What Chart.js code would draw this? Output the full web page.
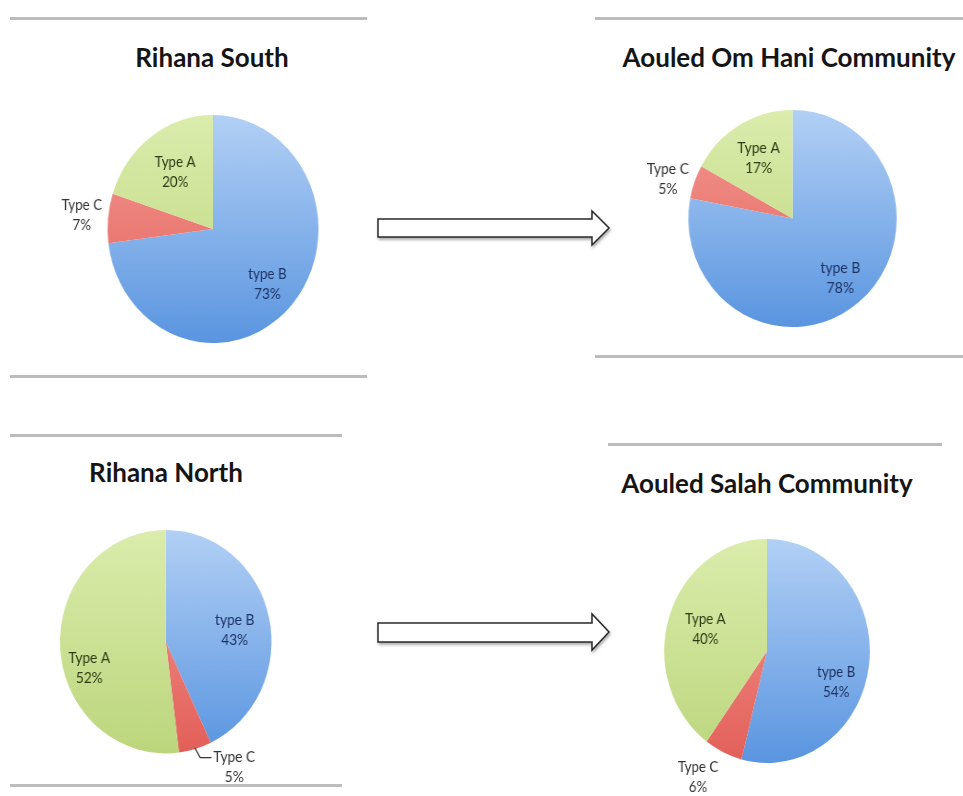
<!DOCTYPE html>
<html lang="en">
<head>
    <meta charset="UTF-8">
    <title>Type distribution</title>
    <style>
        body { margin: 0; background: #fff; width: 963px; height: 796px; position: relative; overflow: hidden; font-family: Lato, "Open Sans", sans-serif; }
        .rule { position: absolute; height: 3px; background: #bcbcbc; }
        .title { position: absolute; width: 440px; text-align: center; font-weight: bold; font-size: 26px; color: #151515; line-height: 30px; }
        .pie { position: absolute; }
        svg { position: absolute; left: 0; top: 0; }
    </style>
    <script src="https://cdn.jsdelivr.net/npm/chart.js"></script>
</head>
<body>
    <div class="rule" style="left:10px; top:17px; width:357px"></div>
    <div class="rule" style="left:10px; top:375px; width:357px"></div>
    <div class="rule" style="left:595px; top:17px; width:368px"></div>
    <div class="rule" style="left:595px; top:355px; width:368px"></div>
    <div class="rule" style="left:10px; top:434px; width:332px"></div>
    <div class="rule" style="left:10px; top:784px; width:332px"></div>
    <div class="rule" style="left:608px; top:443px; width:334px"></div>

    <svg width="963" height="796">
        <defs>
            <filter id="sh" x="-5%" y="-30%" width="110%" height="160%">
                <feDropShadow dx="1" dy="2" stdDeviation="1.5" flood-color="#000" flood-opacity="0.35"/>
            </filter>
        </defs>
        <polygon points="378,219 592,219 592,211 609,228 592,245 592,237 378,237" fill="#fff" stroke="#2a2a2a" stroke-width="1.5" filter="url(#sh)"/>
        <polygon points="378,623 592,623 592,614 609,632 592,650 592,642 378,642" fill="#fff" stroke="#2a2a2a" stroke-width="1.5" filter="url(#sh)"/>
    </svg>

    <div id="charts"></div>

    <script>
        // slice order, clockwise from 12 o'clock
        const typeLabels = ["type B", "Type C", "Type A"];

        const rihanaSouth = [73, 7, 20];
        const omHani = [78, 5, 17];
        const rihanaNorth = [43, 5, 52];
        const ouledSalah = [54, 6, 40];

        const titles = ["Rihana South", "Aouled Om Hani Community", "Rihana North", "Aouled Salah Community"];

        // layout of each pie: center, radius, horizontal squeeze, title position
        const layouts = [
            { cx: 212.5, cy: 229, r: 114, sx: 0.925, tx: 212, ty: 57 },
            { cx: 792, cy: 218.5, r: 108.5, sx: 0.96, tx: 789, ty: 57 },
            { cx: 166, cy: 641.7, r: 111.7, sx: 0.947, tx: 166, ty: 472 },
            { cx: 767, cy: 651.3, r: 112, sx: 0.918, tx: 767, ty: 483 }
        ];

        // label placement per slice: [angle shift deg, radius factor]
        const labelSpots = [
            [[2, 0.71], [0, 1.25], [0, 0.61]],
            [[0, 0.72], [-3, 1.25], [0, 0.64]],
            [[3.5, 0.66], [-13.7, 1.30], [-14.5, 0.76]],
            [[15.7, 0.73], [5.6, 1.31], [0, 0.63]]
        ];
        const leaders = [false, false, true, false];

        const sliceColors = [
            ["#b2d0f5", "#5a95e0"],
            ["#f39a93", "#e35f59"],
            ["#dbecac", "#bcd67d"]
        ];
        const textColors = ["#1c3363", "#333333", "#2e3b14"];

        function gradientFill(ctx) {
            const chart = ctx.chart;
            const area = chart.chartArea;
            const pair = sliceColors[ctx.dataIndex];
            if (!area) return pair[1];
            const g = chart.ctx.createLinearGradient(0, area.top, 0, area.bottom);
            g.addColorStop(0, pair[0]);
            g.addColorStop(1, pair[1]);
            return g;
        }

        const sliceLabels = {
            id: "sliceLabels",
            afterDatasetsDraw(chart, args, opts) {
                const ctx = chart.ctx;
                const meta = chart.getDatasetMeta(0);
                const values = chart.data.datasets[0].data;
                ctx.save();
                ctx.font = "14.5px Lato, sans-serif";
                ctx.textAlign = "center";
                ctx.textBaseline = "middle";
                meta.data.forEach((arc, i) => {
                    const p = arc.getProps(["x", "y", "startAngle", "endAngle", "outerRadius"], true);
                    const spot = opts.spots[i];
                    const a = (p.startAngle + p.endAngle) / 2 + spot[0] * Math.PI / 180;
                    const lx = p.x + Math.cos(a) * p.outerRadius * spot[1];
                    const ly = p.y + Math.sin(a) * p.outerRadius * spot[1];
                    const name = chart.data.labels[i];
                    ctx.fillStyle = textColors[i];
                    ctx.fillText(name, lx, ly - 10);
                    ctx.fillText(values[i] + "%", lx, ly + 10);
                    if (opts.leader && i === 1) {
                        const mid = (p.startAngle + p.endAngle) / 2;
                        const x0 = p.x + Math.cos(mid) * p.outerRadius * 0.99;
                        const y0 = p.y + Math.sin(mid) * p.outerRadius * 0.99;
                        const x2 = lx - ctx.measureText(name).width / 2 - 2;
                        const y2 = ly - 10;
                        ctx.strokeStyle = "#333";
                        ctx.lineWidth = 1.2;
                        ctx.beginPath();
                        ctx.moveTo(x0, y0);
                        ctx.lineTo(x2 - 12, y2);
                        ctx.lineTo(x2, y2);
                        ctx.stroke();
                    }
                });
                ctx.restore();
            }
        };

        const series = [rihanaSouth, omHani, rihanaNorth, ouledSalah];
        const pad = 80;
        const holder = document.getElementById("charts");

        series.forEach((values, k) => {
            const L = layouts[k];
            const size = 2 * L.r + 2 * pad;

            const title = document.createElement("div");
            title.className = "title";
            title.textContent = titles[k];
            title.style.left = (L.tx - 220) + "px";
            title.style.top = (L.ty - 15) + "px";
            holder.appendChild(title);

            const box = document.createElement("div");
            box.className = "pie";
            box.style.width = size + "px";
            box.style.height = size + "px";
            box.style.left = (L.cx - size / 2) + "px";
            box.style.top = (L.cy - size / 2) + "px";
            box.style.transform = "scaleX(" + L.sx + ")";
            const canvas = document.createElement("canvas");
            box.appendChild(canvas);
            holder.appendChild(box);

            new Chart(canvas, {
                type: "pie",
                data: {
                    labels: typeLabels,
                    datasets: [{
                        data: values,
                        backgroundColor: gradientFill,
                        borderWidth: 0
                    }]
                },
                options: {
                    responsive: true,
                    maintainAspectRatio: false,
                    animation: false,
                    layout: { padding: pad },
                    plugins: {
                        legend: { display: false },
                        tooltip: { enabled: false },
                        sliceLabels: { spots: labelSpots[k], leader: leaders[k] }
                    }
                },
                plugins: [sliceLabels]
            });
        });
    </script>
</body>
</html>
